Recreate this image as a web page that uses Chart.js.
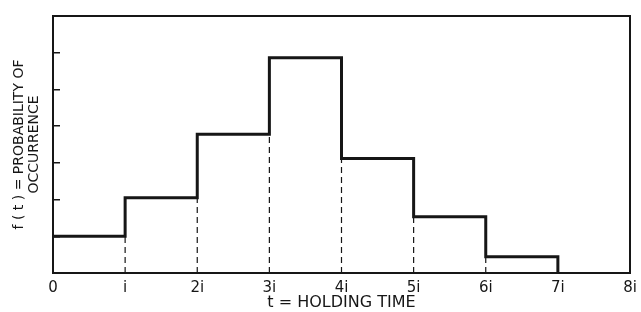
<!DOCTYPE html>
<html>
<head>
<meta charset="utf-8">
<script src="https://cdn.jsdelivr.net/npm/chart.js@4.4.0/dist/chart.umd.min.js"></script>
<style>
  html, body { margin: 0; padding: 0; background: #fff; }
  #wrap { width: 641px; height: 312px; }
</style>
</head>
<body>
<div id="wrap"><canvas id="holdingChart"></canvas></div>
<script>
// значения по интервалам 0-i, i-2i, ... 6i-7i
const intervalStarts = [0, 1, 2, 3, 4, 5, 6, 7];
const levels = [1.0, 2.05, 3.78, 5.86, 3.12, 1.53, 0.44, 0];
const xTickLabels = ['0', 'i', '2i', '3i', '4i', '5i', '6i', '7i', '8i'];
const yTickValues = [1, 2, 3, 4, 5, 6];

const ink = '#161616';

// ступенчатая линия
const stepData = intervalStarts.map((x, i) => ({ x: x, y: levels[i] }));

// пунктирные вертикали на границах интервалов
const dashSets = [];
for (let k = 1; k < 7; k++) {
    const top = Math.min(levels[k - 1], levels[k]);
    dashSets.push({
        data: [{ x: k, y: 0 }, { x: k, y: top }],
        borderColor: ink,
        borderWidth: 1.2,
        borderDash: [6, 4],
        pointRadius: 0,
        fill: false
    });
}

// рамка вокруг области графика
const framePlugin = {
    id: 'frame',
    afterDatasetsDraw(chart) {
        const a = chart.chartArea;
        const ctx = chart.ctx;
        ctx.save();
        ctx.strokeStyle = ink;
        ctx.lineWidth = 2;
        ctx.strokeRect(a.left, a.top, a.right - a.left, a.bottom - a.top);
        ctx.restore();
    }
};

const ctx = document.getElementById('holdingChart');
new Chart(ctx, {
    type: 'line',
    data: {
        datasets: [{
            data: stepData,
            stepped: 'before',
            borderColor: ink,
            borderWidth: 3,
            pointRadius: 0,
            fill: false
        }].concat(dashSets)
    },
    options: {
        responsive: true,
        maintainAspectRatio: false,
        animation: false,
        layout: { padding: { top: 16, right: 11, left: 0, bottom: 0 } },
        plugins: {
            legend: { display: false },
            tooltip: { enabled: false }
        },
        scales: {
            x: {
                type: 'linear',
                min: 0,
                max: 8,
                afterBuildTicks: s => { s.ticks = xTickLabels.map((t, i) => ({ value: i })); },
                afterFit: s => { s.height = 39; s.paddingRight = 0; s.paddingLeft = 0; },
                grid: { display: false, drawTicks: false },
                border: { display: false },
                ticks: {
                    padding: 6,
                    color: ink,
                    font: { family: 'DejaVu Sans', size: 15 },
                    maxRotation: 0,
                    callback: (v, i) => xTickLabels[i]
                },
                title: {
                    display: true,
                    text: 't = HOLDING TIME',
                    color: ink,
                    font: { family: 'DejaVu Sans', size: 16 },
                    padding: { top: 0, bottom: 0 }
                }
            },
            y: {
                min: 0,
                max: 7,
                afterBuildTicks: s => { s.ticks = yTickValues.map(v => ({ value: v })); },
                afterFit: s => { s.width = 53; },
                grid: {
                    display: true,
                    drawOnChartArea: false,
                    drawTicks: true,
                    tickLength: -7,
                    color: ink,
                    lineWidth: 1.5
                },
                border: { display: false },
                ticks: { display: false },
                title: {
                    display: true,
                    text: ['f ( t ) = PROBABILITY OF', 'OCCURRENCE'],
                    color: ink,
                    font: { family: 'DejaVu Sans', size: 14, lineHeight: 1.05 },
                    padding: { top: 12, bottom: 0 }
                }
            }
        }
    },
    plugins: [framePlugin]
});
</script>
</body>
</html>
